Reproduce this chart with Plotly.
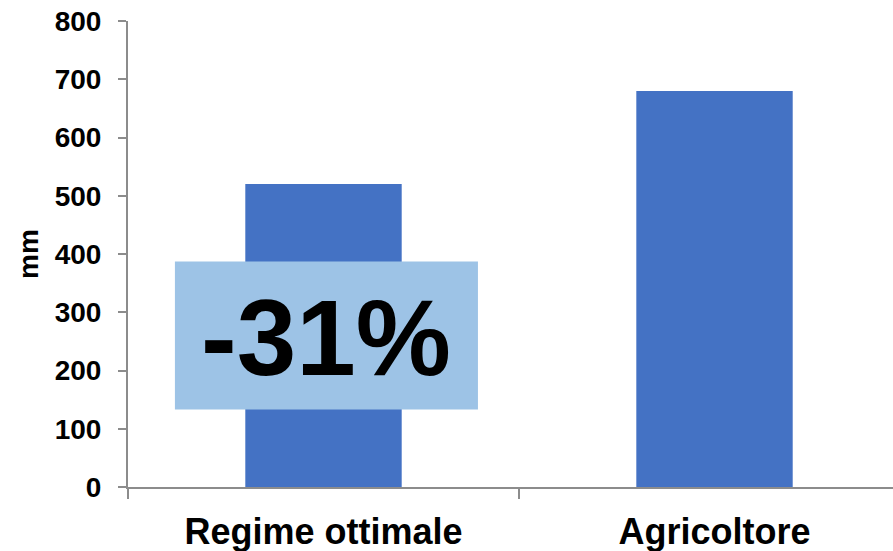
import plotly.graph_objects as go

# Irrigation volume per management regime
categories = ["Regime ottimale", "Agricoltore"]
water_mm = [520, 680]
y_ticks = [0, 100, 200, 300, 400, 500, 600, 700, 800]
y_title = "mm"
reduction_label = "-31%"

FONT = "Liberation Sans, Arial, sans-serif"
AXIS_GREY = "#8c8c8c"
BAR_BLUE = "#4472C4"
BOX_BLUE = "#9DC3E6"

fig = go.Figure(
    go.Bar(
        x=categories,
        y=water_mm,
        width=0.4,
        marker=dict(color=BAR_BLUE, line=dict(width=0)),
        hoverinfo="skip",
    )
)

# Highlight box with the percentage reduction
fig.add_shape(
    type="rect", xref="x", yref="y",
    x0=-0.38, x1=0.395, y0=133, y1=387,
    fillcolor=BOX_BLUE, line=dict(width=0), layer="above",
)
fig.add_annotation(
    x=0.006, y=256, xref="x", yref="y",
    text="<b>%s</b>" % reduction_label,
    showarrow=False,
    font=dict(family=FONT, size=107, color="black"),
    xanchor="center", yanchor="middle",
)

fig.update_layout(
    width=893, height=551,
    margin=dict(l=128, r=0, t=21, b=64),
    paper_bgcolor="white", plot_bgcolor="white",
    showlegend=False,
    bargap=0.6,
)

fig.update_xaxes(
    type="category",
    range=[-0.5, 1.4565],
    showline=True, linecolor=AXIS_GREY, linewidth=2,
    ticks="outside", tickson="boundaries", ticklen=10, tickwidth=2, tickcolor=AXIS_GREY,
    tickfont=dict(family=FONT, size=36, color="black"),
    ticklabelstandoff=12,
    showgrid=False, zeroline=False,
    tickprefix="<b>", ticksuffix="</b>",
)

fig.update_yaxes(
    range=[0, 800],
    tickvals=y_ticks,
    ticktext=["<b>%d</b>" % v for v in y_ticks],
    showline=True, linecolor=AXIS_GREY, linewidth=2,
    ticks="outside", ticklen=8, tickwidth=2, tickcolor=AXIS_GREY,
    tickfont=dict(family=FONT, size=28, color="black"),
    ticklabelstandoff=11,
    showgrid=False, zeroline=False,
    title=dict(text="<b>%s</b>" % y_title, font=dict(family=FONT, size=28, color="black"), standoff=8),
)

fig.write_html("out.html")
